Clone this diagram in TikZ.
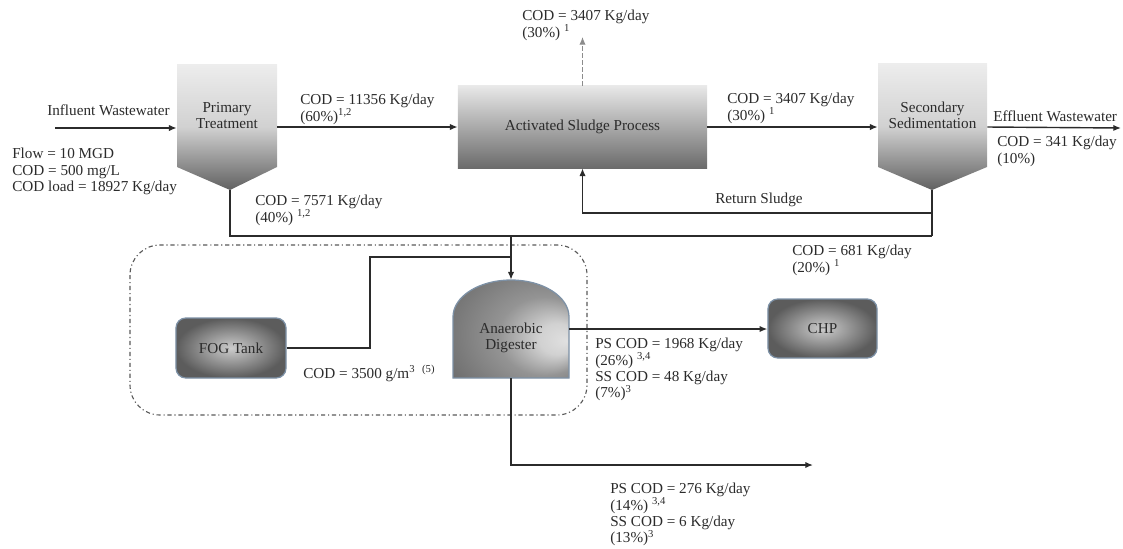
\documentclass[tikz,border=0pt]{standalone}
\usepackage{fontspec}
\setmainfont{Liberation Serif}
\usetikzlibrary{arrows.meta}
\definecolor{tankedge}{HTML}{7D91A6}
\definecolor{ink}{HTML}{2B2B2B}
\pgfdeclareradialshading{domeshade}{\pgfpoint{24bp}{-6bp}}{color(0bp)=(black!12); color(8bp)=(black!18); color(20bp)=(black!42); color(32bp)=(black!52); color(50bp)=(black!66)}
\tikzset{
  every node/.style={font=\fontsize{10.8}{11.6}\selectfont, text=ink},
  flow/.style={line width=1pt, draw=ink, -{Latex[length=5.5pt,width=4.5pt]}},
  pipe/.style={line width=1pt, draw=ink},
  note/.style={align=left, anchor=north west, inner sep=0pt},
  hopper/.style={top color=black!7, bottom color=black!62, middle color=black!18},
  tank/.style={draw=tankedge, line width=0.9pt, rounded corners=7pt, inner color=black!20, outer color=black!64}
}
\begin{document}
\begin{tikzpicture}[x=0.025cm,y=0.025cm]
\useasboundingbox (0,0) rectangle (1123,-548);
\shade[hopper] (177,-64) -- (277,-64) -- (277,-167) -- (230,-190) -- (177,-167) -- cycle;
\shade[hopper] (878,-63) -- (987,-63) -- (987,-167) -- (932,-190) -- (878,-167) -- cycle;
\shade[shading=domeshade, draw=tankedge, line width=0.9pt] (453,-378) -- (453,-317) arc[start angle=180, end angle=0, x radius=58, y radius=37] -- (569,-378) -- cycle;
\draw[black!65, line width=0.8pt, dash dot, rounded corners=0.75cm] (130,-245) rectangle (587,-415);

\node[minimum width=2.5cm, minimum height=2.575cm, align=center] (primary) at (227,-115.5) {Primary\\Treatment};
\node[minimum width=2.725cm, minimum height=2.6cm, align=center] (secondary) at (932.5,-115) {Secondary\\Sedimentation};
\node[minimum width=6.225cm, minimum height=2.05cm, top color=black!9, middle color=black!12, bottom color=black!58] (asp) at (582.5,-127) {Activated Sludge Process};
\node[minimum width=2.9cm, minimum height=2.45cm] (digester) at (511,-329) {};
\node[align=center] (digester-txt) at (511,-338) {Anaerobic\\Digester};
\node[tank, minimum width=2.75cm, minimum height=1.5cm] (fog) at (231,-348) {FOG Tank};
\node[tank, minimum width=2.725cm, minimum height=1.475cm] (chp) at (822.5,-328.5) {CHP};
\coordinate (primary-tip) at (230,-190);
\coordinate (secondary-tip) at (932,-190);
\coordinate (inflow) at (55,-128);
\coordinate (effluent-end) at (1121,-128);
\coordinate (waste) at (582.5,-37);
\coordinate (return-bend) at (932,-213);
\coordinate (sed-drop) at (932,-236);
\coordinate (junction) at (511,-236);
\coordinate (fog-bend) at (370,-257);
\coordinate (out-end) at (813,-465);

\node[note] (influent) at (47,-105) {Influent Wastewater};
\node[note] (feed) at (12,-148) {Flow = 10 MGD\\COD = 500 mg/L\\COD load = 18927 Kg/day};
\node[note] (pri-cod) at (300,-94) {COD = 11356 Kg/day\\(60\%)\textsuperscript{1,2}};
\node[note] (waste-cod) at (522,-10) {COD = 3407 Kg/day\\(30\%) \textsuperscript{1}};
\node[note] (asp-cod) at (727,-93) {COD = 3407 Kg/day\\(30\%) \textsuperscript{1}};
\node[note] (effluent) at (993,-111) {Effluent Wastewater};
\node[note] (eff-cod) at (997,-136) {COD = 341 Kg/day\\(10\%)};
\node[note] (return) at (715,-193) {Return Sludge};
\node[note] (pri-sludge) at (255,-195) {COD = 7571 Kg/day\\(40\%) \textsuperscript{1,2}};
\node[note] (sed-sludge) at (792,-245) {COD = 681 Kg/day\\(20\%) \textsuperscript{1}};
\node[note] (fog-cod) at (303,-365) {COD = 3500 g/m\textsuperscript{3}\hspace{0.45em}\textsuperscript{(5)}};
\node[note] (chp-cod) at (595,-338) {PS COD = 1968 Kg/day\\(26\%) \textsuperscript{3,4}\\SS COD = 48 Kg/day\\(7\%)\textsuperscript{3}};
\node[note] (out-cod) at (610,-483) {PS COD = 276 Kg/day\\(14\%) \textsuperscript{3,4}\\SS COD = 6 Kg/day\\(13\%)\textsuperscript{3}};

\draw[flow] (inflow) -- (inflow -| primary.west);
\draw[flow] (primary.east |- asp.west) -- (asp.west);
\draw[flow] (asp.east) -- (asp.east -| secondary.west);
\draw[flow] (secondary.east |- asp.east) -- (effluent-end);
\draw[flow, draw=black!45, line width=0.7pt, densely dashed] (asp.north) -- (waste);
\draw[flow] (secondary-tip) -- (return-bend) -| (asp.south);
\draw[pipe] (secondary-tip) -- (sed-drop);
\draw[pipe] (primary-tip) |- (sed-drop);
\draw[flow] (junction) -- (digester.north);
\draw[pipe] (fog.east) -| (fog-bend) -- (fog-bend -| junction);
\draw[flow] (digester.east) -- (digester.east -| chp.west);
\draw[flow] (digester.south) |- (out-end);
\end{tikzpicture}
\end{document}
